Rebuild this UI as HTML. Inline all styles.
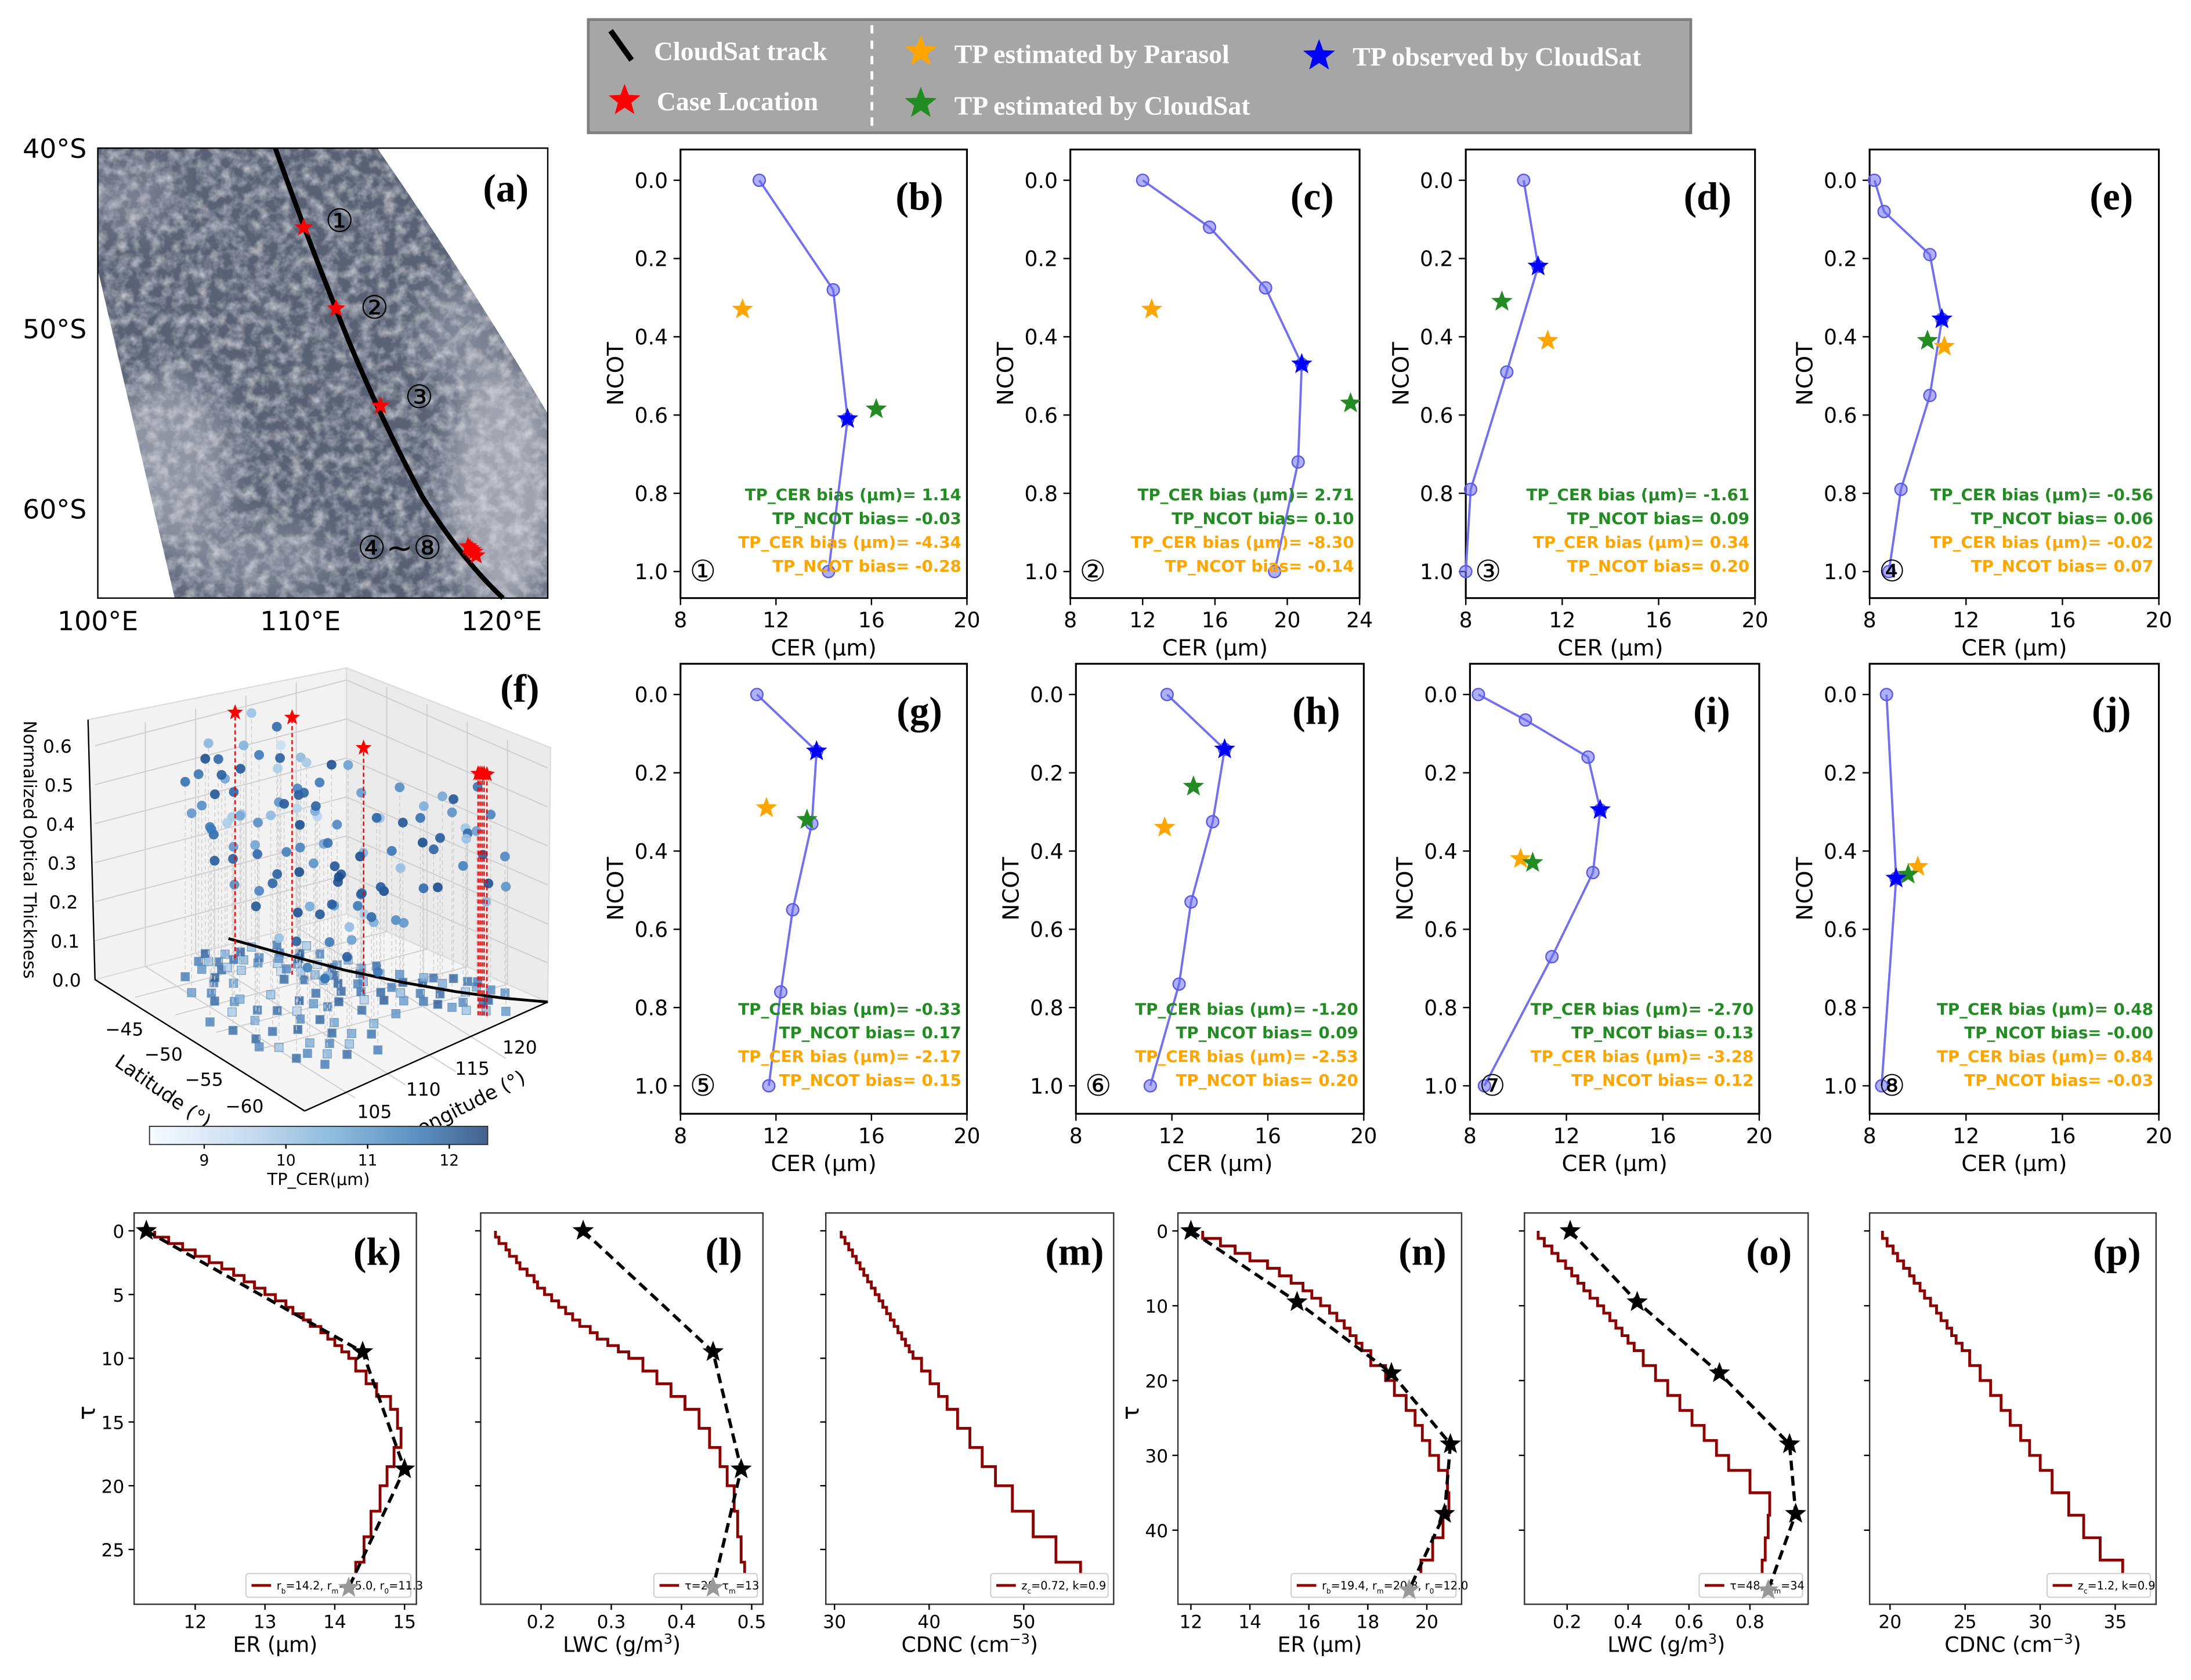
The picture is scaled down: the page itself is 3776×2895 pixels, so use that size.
<!DOCTYPE html>
<html><head><meta charset="utf-8">
<style>
html,body{margin:0;padding:0;background:#fff;}
svg{display:block;}
text{font-family:"DejaVu Sans","Liberation Sans","Noto Sans CJK JP",sans-serif;}
.serif{font-family:"Liberation Serif","DejaVu Serif",serif;font-weight:bold;}
</style></head>
<body>
<svg id="fig" xmlns="http://www.w3.org/2000/svg" width="3776" height="2895" viewBox="0 0 1568 1202.2" preserveAspectRatio="none">
<defs>
<clipPath id="swathClip"><path d="M70,106 L270,106 Q335,200 392,296 L392,428 L125,428 Q95,300 70,193 Z"/></clipPath>
<filter id="clouds" x="0" y="0" width="100%" height="100%">
<feTurbulence type="fractalNoise" baseFrequency="0.12" numOctaves="3" seed="5"/>
<feColorMatrix type="matrix" values="0 0 0 0 0.72  0 0 0 0 0.73  0 0 0 0 0.78  1.7 0 0 0 -0.62"/>
</filter>
<filter id="soft"><feGaussianBlur stdDeviation="12"/></filter>
<linearGradient id="cbGrad" x1="0" x2="1" y1="0" y2="0">
<stop offset="0" stop-color="#f7fbff"/><stop offset="0.3" stop-color="#c6dbef"/>
<stop offset="0.55" stop-color="#8cbbdc"/><stop offset="0.8" stop-color="#5a8fc0"/><stop offset="1" stop-color="#44628e"/>
</linearGradient>
</defs>

<g>
<rect x="421" y="14" width="789" height="81" fill="#a6a6a6" stroke="#7f7f7f" stroke-width="2"/>
<line x1="437" y1="22" x2="452" y2="43" stroke="#000" stroke-width="4"/>
<text class="serif" x="468" y="43" font-size="19" fill="#fff">CloudSat track</text>
<text class="serif" x="470" y="79" font-size="19" fill="#fff">Case Location</text>
<line x1="624" y1="18" x2="624" y2="92" stroke="#fff" stroke-width="2" stroke-dasharray="6,5"/>
<text class="serif" x="683" y="45" font-size="19" fill="#fff">TP estimated by Parasol</text>
<text class="serif" x="683" y="82" font-size="19" fill="#fff">TP estimated by CloudSat</text>
<text class="serif" x="968" y="47" font-size="19" fill="#fff">TP observed by CloudSat</text>
<g id="legendStars"></g>
</g>

<g>
<rect x="70" y="106" width="322" height="322" fill="#fff"/>
<g clip-path="url(#swathClip)">
<rect x="70" y="106" width="322" height="322" fill="#596174"/>
<g filter="url(#soft)">
<ellipse cx="120" cy="330" rx="45" ry="60" fill="#aeb1bd" opacity="0.65"/>
<ellipse cx="360" cy="350" rx="40" ry="90" fill="#b9bcc6" opacity="0.75"/>
<ellipse cx="330" cy="240" rx="30" ry="40" fill="#a6a9b6" opacity="0.5"/>
<ellipse cx="180" cy="400" rx="60" ry="25" fill="#a3a7b3" opacity="0.5"/>
<ellipse cx="95" cy="140" rx="30" ry="25" fill="#a3a7b3" opacity="0.45"/>
</g>
<rect x="70" y="106" width="322" height="322" filter="url(#clouds)" opacity="0.85"/>
</g>
<rect x="70" y="106" width="322" height="322" fill="none" stroke="#000" stroke-width="1"/>
<path d="M197,106 Q220,170 240,220 Q265,285 302,355 Q330,400 360,428" fill="none" stroke="#000" stroke-width="3.5"/>
<g id="mapStars"></g>
<text x="243" y="166" font-size="23" text-anchor="middle" fill="#000">①</text>
<text x="268" y="228" font-size="23" text-anchor="middle" fill="#000">②</text>
<text x="300" y="292" font-size="23" text-anchor="middle" fill="#000">③</text>
<text x="286" y="400" font-size="23" text-anchor="middle" fill="#000">④~⑧</text>
<text class="serif" x="362" y="144" font-size="28" text-anchor="middle">(a)</text>
<text x="62" y="113" font-size="19" text-anchor="end">40°S</text>
<text x="62" y="242" font-size="19" text-anchor="end">50°S</text>
<text x="62" y="371" font-size="19" text-anchor="end">60°S</text>
<text x="70" y="451" font-size="19" text-anchor="middle">100°E</text>
<text x="215" y="451" font-size="19" text-anchor="middle">110°E</text>
<text x="359" y="451" font-size="19" text-anchor="middle">120°E</text>
</g>

<g id="panelF"></g>
<g id="profiles"></g>
<g id="row3"></g>
</svg>

<script>
const cerB=[11.3,14.4,15.0,14.2]; const ncotB=[0,0.28,0.61,1.0];
const cerC=[12.0,15.7,18.8,20.8,20.6,19.3]; const ncotC=[0,0.12,0.275,0.47,0.72,1.0];
const cerD=[10.4,11.0,9.7,8.2,8.0]; const ncotD=[0,0.22,0.49,0.79,1.0];
const cerE=[8.2,8.6,10.5,11.0,10.5,9.3,8.8]; const ncotE=[0,0.08,0.19,0.355,0.55,0.79,1.0];
const cerG=[11.2,13.7,13.5,12.7,12.2,11.7]; const ncotG=[0,0.145,0.33,0.55,0.76,1.0];
const cerH=[11.8,14.2,13.7,12.8,12.3,11.1]; const ncotH=[0,0.14,0.325,0.53,0.74,1.0];
const cerI=[8.35,10.3,12.9,13.4,13.1,11.4,8.6]; const ncotI=[0,0.065,0.16,0.295,0.455,0.67,1.0];
const cerJ=[8.7,9.1,8.5]; const ncotJ=[0,0.47,1.0];
const parasolTP={b:[10.6,0.33],c:[12.5,0.33],d:[11.4,0.41],e:[11.1,0.425],g:[11.6,0.29],h:[11.7,0.34],i:[10.1,0.42],j:[10.0,0.44]};
const csEstTP={b:[16.2,0.585],c:[23.5,0.57],d:[9.5,0.31],e:[10.4,0.41],g:[13.3,0.32],h:[12.9,0.235],i:[10.6,0.43],j:[9.6,0.46]};
const obsTP={b:[15.0,0.61],c:[20.8,0.47],d:[11.0,0.22],e:[11.0,0.355],g:[13.7,0.145],h:[14.2,0.14],i:[13.4,0.295],j:[9.1,0.47]};
const biasCERcs={b:"1.14",c:"2.71",d:"-1.61",e:"-0.56",g:"-0.33",h:"-1.20",i:"-2.70",j:"0.48"};
const biasNCOTcs={b:"-0.03",c:"0.10",d:"0.09",e:"0.06",g:"0.17",h:"0.09",i:"0.13",j:"-0.00"};
const biasCERpa={b:"-4.34",c:"-8.30",d:"0.34",e:"-0.02",g:"-2.17",h:"-2.53",i:"-3.28",j:"0.84"};
const biasNCOTpa={b:"-0.28",c:"-0.14",d:"0.20",e:"0.07",g:"0.15",h:"0.20",i:"0.12",j:"-0.03"};
const xTicks8to20=[8,12,16,20]; const xTicks8to24=[8,12,16,20,24];
const yTicksNCOT=[0.0,0.2,0.4,0.6,0.8,1.0];

const tauK=[0,0.5,1,1.5,2,2.5,3,3.5,4,4.5,5,5.5,6,6.5,7,7.5,8,8.5,9,9.5,10,11,12,13,14,15.5,17,18.5,20,22,24,26,28];
const erK=[11.42,11.62,11.82,12.0,12.2,12.38,12.55,12.7,12.85,13.0,13.15,13.3,13.4,13.55,13.65,13.8,13.9,14.0,14.1,14.2,14.3,14.45,14.6,14.8,14.9,14.95,14.85,14.75,14.65,14.52,14.42,14.3];
const lwcK=[0.135,0.14,0.15,0.155,0.165,0.17,0.18,0.19,0.195,0.205,0.215,0.225,0.235,0.245,0.255,0.27,0.28,0.295,0.31,0.325,0.345,0.365,0.385,0.405,0.425,0.44,0.455,0.465,0.475,0.48,0.485,0.49];
const cdncK=[30.7,31.1,31.5,31.9,32.3,32.7,33.1,33.5,33.9,34.3,34.7,35.1,35.5,35.9,36.3,36.7,37.1,37.5,37.9,38.3,39.2,40.1,41,41.9,43,44.3,45.6,47,48.8,51,53.4,56];
const starTauK=[0,9.5,18.7,28]; const starErK=[11.3,14.4,15.0,14.2]; const starLwcK=[0.26,0.445,0.485,0.445];
const tauN=[0,1,2,3,4,5,6,7,8,9,10,11,12,13,14,15,16,18,20,22,24,26,28,30,32,35,38,41,44,48];
const erN=[12.4,13.0,13.5,14.0,14.6,15.0,15.4,15.8,16.1,16.4,16.7,16.95,17.2,17.4,17.6,17.8,18.1,18.6,18.9,19.3,19.6,19.85,20.1,20.4,20.7,20.75,20.55,20.2,19.8];
const lwcN=[0.105,0.125,0.15,0.17,0.195,0.215,0.235,0.255,0.275,0.3,0.32,0.34,0.36,0.38,0.4,0.42,0.45,0.49,0.53,0.57,0.61,0.65,0.69,0.73,0.8,0.865,0.86,0.85,0.84];
const cdncN=[19.5,19.8,20.2,20.5,20.9,21.3,21.6,22,22.3,22.7,23.1,23.4,23.8,24.1,24.4,24.8,25.3,26,26.7,27.4,28,28.7,29.3,30.0,30.8,31.9,32.9,34,35.5];
const starTauN=[0,9.5,19,28.5,37.8,48]; const starErN=[12.0,15.6,18.8,20.8,20.6,19.4]; const starLwcN=[0.21,0.43,0.7,0.93,0.95,0.86];

const fLonA=[108,109,110,108.5,107.5,109.5,110.5,107,111,108,112,113,112.5,113.5,114,112,113,114.5,111.5,115,113,114,115,114.5,113.5,116,115.5,112.5,116.5,114,117,118,119,118.5,119.5,120,117.5,120.5,119,121,106,107,105.5,108,106.5,109,110,109,111,110,105,106,107,108,109,110,104.5,112,111,116];
const fLatA=[-43,-44,-43.5,-45,-44,-46,-45,-46,-44,-47,-47,-48,-49,-47.5,-49,-50,-51,-50,-48,-48,-53,-54,-53,-56,-55,-55,-57,-56,-53,-58,-57,-58,-57,-60,-59,-61,-60,-58,-62,-60,-52,-51,-50,-52,-49,-50,-52,-53,-54,-56,-56,-58,-57,-60,-59,-61,-54,-58,-46,-50];
const fNcotA=[0.48,0.52,0.45,0.5,0.42,0.4,0.55,0.38,0.47,0.35,0.5,0.45,0.55,0.42,0.38,0.48,0.35,0.52,0.58,0.44,0.3,0.25,0.33,0.28,0.22,0.35,0.2,0.3,0.4,0.24,0.45,0.4,0.48,0.35,0.42,0.3,0.5,0.38,0.28,0.45,0.45,0.4,0.5,0.35,0.3,0.46,0.33,0.52,0.42,0.3,0.28,0.22,0.35,0.25,0.3,0.2,0.34,0.26,0.36,0.5];
const fCerA=[11.5,11.8,10.5,12,11,9.8,10.2,11.7,12.2,10.8,9.5,11.2,10,12.1,9.2,11.9,10.5,12.3,9,11.4,12.2,11.8,10.2,12.4,9.5,11.5,10.8,12,9.8,11,11.6,12.1,10.4,11.3,9.7,12.3,10.9,11.8,10.1,11.2,10.5,11.8,9.6,12,11,10,12.4,9.3,11.6,10.7,9.8,11.3,10.4,12,9.9,11.5,12.2,10.3,11,10.6];
const fLonB=[109,110,108.5,107.5,109,111.5,112,113,112.5,113.5,114,115,111,112,113,114,115,115.5,116,117,113.5,114.5,115,116,117,117.5,118,116.5,118.5,119,120,120.5,121,119.5,118,121.5,117,120,106,105.5,107,106,107.5,108.5,109.5,110.5,111.5,112,108,109,110,111,107,106,105,104,104,103.5,105,106];
const fLatB=[-42.5,-44.5,-43.5,-45.5,-45,-45.5,-44,-46,-46.5,-45,-47,-46.5,-49,-48,-50,-51,-50,-52,-51.5,-52,-52,-53,-55,-56,-55,-54,-56,-58,-55.5,-56,-57,-59,-58.5,-61,-61,-61,-59,-63,-47,-48,-49,-54,-55,-54,-55,-53,-52,-54,-58,-57,-58,-59,-59,-60,-58,-55,-52,-50,-46,-44];
const fNcotB=[0.5,0.43,0.56,0.47,0.37,0.52,0.6,0.5,0.4,0.56,0.33,0.47,0.45,0.3,0.42,0.28,0.36,0.3,0.45,0.38,0.26,0.2,0.27,0.32,0.41,0.48,0.36,0.29,0.44,0.33,0.46,0.4,0.5,0.38,0.44,0.35,0.3,0.32,0.42,0.36,0.47,0.38,0.3,0.44,0.27,0.36,0.48,0.32,0.26,0.33,0.24,0.3,0.2,0.22,0.3,0.4,0.44,0.5,0.46,0.5];
const fCerB=[12.3,11.9,10.1,12.2,9.5,11.4,9.8,12.0,10.9,11.7,12.4,9.6,12.1,11.3,10.3,12.2,11.1,12.4,10.7,11.9,12.3,11.4,12.1,9.9,12.2,11.0,12.4,11.7,10.3,11.9,12.2,10.6,11.5,12.0,9.8,11.1,12.4,10.9,11.5,12.1,10.4,11.9,12.3,11.2,12.2,10.9,11.9,12.4,11.4,12.1,10.6,11.8,10.2,11.6,12.0,11.2,12.0,11.4,10.8,11.6];
const fLon=fLonA.concat(fLonB), fLat=fLatA.concat(fLatB), fNcot=fNcotA.concat(fNcotB), fCer=fCerA.concat(fCerB);
const caseLon=[110.2,111.8,114.0,118.2,118.3,118.4,118.5,118.6];
const caseLat=[-44.4,-48.9,-54.3,-62.1,-62.2,-62.3,-62.4,-62.6];
const caseTop=[0.63,0.66,0.63,0.62,0.62,0.62,0.62,0.62];
const trackLon=[111.5,113,115,117,119,121,123];
const trackLat=[-42,-46,-51,-55,-58.5,-61.5,-64];
const cbTicks=[9,10,11,12];

const NS="http://www.w3.org/2000/svg";
function mk(tag,attrs,parent){const e=document.createElementNS(NS,tag);for(const k in attrs)e.setAttribute(k,attrs[k]);if(parent)parent.appendChild(e);return e;}
function starPts(cx,cy,r){let p=[];for(let i=0;i<10;i++){const a=-Math.PI/2+i*Math.PI/5;const rr=i%2?r*0.42:r;p.push((cx+rr*Math.cos(a)).toFixed(2)+","+(cy+rr*Math.sin(a)).toFixed(2));}return p.join(" ");}
function txt(parent,x,y,s,size,anchor,extra){const t=mk("text",Object.assign({x:x,y:y,"font-size":size,"text-anchor":anchor||"start"},extra||{}),parent);t.textContent=s;return t;}

(function(){
const g=document.getElementById("legendStars");
let s;
s=mk("polygon",{points:starPts(447,72,12),fill:"#ff0000"},g);

s=mk("polygon",{points:starPts(659,37,12),fill:"#ffa500"},g);

s=mk("polygon",{points:starPts(659,74,12),fill:"#228b22"},g);

s=mk("polygon",{points:starPts(944,40,12),fill:"#0000ff"},g);

const m=document.getElementById("mapStars");
const mapLon=x=>70+(x-100)*14.45, mapLat=y=>106+(-y-40)*12.9;
for(let i=0;i<caseLon.length;i++){
 const st=mk("polygon",{points:starPts(mapLon(caseLon[i])+(i>2?2:0),mapLat(caseLat[i]),7),fill:"#ff0000"},m);
 
 
}
})();

const panels=[
 {id:"b",cer:cerB,nc:ncotB,x0:487,x1:692,top:107,bot:428,y0:129,y1:409,xmin:8,xmax:20,ticks:xTicks8to20,num:"①"},
 {id:"c",cer:cerC,nc:ncotC,x0:766,x1:973,top:107,bot:428,y0:129,y1:409,xmin:8,xmax:24,ticks:xTicks8to24,num:"②"},
 {id:"d",cer:cerD,nc:ncotD,x0:1049,x1:1256,top:107,bot:428,y0:129,y1:409,xmin:8,xmax:20,ticks:xTicks8to20,num:"③"},
 {id:"e",cer:cerE,nc:ncotE,x0:1338,x1:1545,top:107,bot:428,y0:129,y1:409,xmin:8,xmax:20,ticks:xTicks8to20,num:"④"},
 {id:"g",cer:cerG,nc:ncotG,x0:487,x1:692,top:475,bot:797,y0:497,y1:777,xmin:8,xmax:20,ticks:xTicks8to20,num:"⑤"},
 {id:"h",cer:cerH,nc:ncotH,x0:770,x1:976,top:475,bot:797,y0:497,y1:777,xmin:8,xmax:20,ticks:xTicks8to20,num:"⑥"},
 {id:"i",cer:cerI,nc:ncotI,x0:1052,x1:1259,top:475,bot:797,y0:497,y1:777,xmin:8,xmax:20,ticks:xTicks8to20,num:"⑦"},
 {id:"j",cer:cerJ,nc:ncotJ,x0:1338,x1:1545,top:475,bot:797,y0:497,y1:777,xmin:8,xmax:20,ticks:xTicks8to20,num:"⑧"}
];
const prof=document.getElementById("profiles");
panels.forEach(P=>{
 const g=mk("g",{},prof);
 
 
 const X=v=>P.x0+(v-P.xmin)/(P.xmax-P.xmin)*(P.x1-P.x0);
 const Y=v=>P.y0+v*(P.y1-P.y0);
 const box=mk("rect",{x:P.x0,y:P.top,width:P.x1-P.x0,height:P.bot-P.top,fill:"#fff",stroke:"#000","stroke-width":1.3},g);
 
 
 yTicksNCOT.forEach(t=>{mk("line",{x1:P.x0-5,x2:P.x0,y1:Y(t),y2:Y(t),stroke:"#000"},g);
  const tl=txt(g,P.x0-9,Y(t)+5.5,t.toFixed(1),15,"end");
  
  });
 P.ticks.forEach(t=>{mk("line",{x1:X(t),x2:X(t),y1:P.bot,y2:P.bot+5,stroke:"#000"},g);
  const tl=txt(g,X(t),P.bot+21,String(t),15,"middle");
  
  });
 const yl=txt(g,0,0,"NCOT",16,"middle",{transform:`translate(${P.x0-41},${(P.top+P.bot)/2}) rotate(-90)`});
 
 
 const xl=txt(g,(P.x0+P.x1)/2,P.bot+41,"CER (μm)",16,"middle");
 
 
 const pts=P.cer.map((c,i)=>X(c).toFixed(1)+","+Y(P.nc[i]).toFixed(1)).join(" ");
 const line=mk("polyline",{points:pts,fill:"none",stroke:"#7070f0","stroke-width":1.6},g);
 
 
 P.cer.forEach((c,i)=>{const d=mk("circle",{cx:X(c),cy:Y(P.nc[i]),r:4.3,fill:"rgba(110,110,245,0.55)",stroke:"#5a5ae8","stroke-width":1},g);
  
  });
 let s=mk("polygon",{points:starPts(X(parasolTP[P.id][0]),Y(parasolTP[P.id][1]),8),fill:"#ffa500"},g);
 
 
 s=mk("polygon",{points:starPts(X(csEstTP[P.id][0]),Y(csEstTP[P.id][1]),8),fill:"#228b22"},g);
 
 
 s=mk("polygon",{points:starPts(X(obsTP[P.id][0]),Y(obsTP[P.id][1]),8),fill:"#0000ff"},g);
 
 
 const bx=P.x1-4, by=Y(0.8)+5;
 const lines=[["TP_CER bias (μm)= "+biasCERcs[P.id],"#228b22"],["TP_NCOT bias= "+biasNCOTcs[P.id],"#228b22"],["TP_CER bias (μm)= "+biasCERpa[P.id],"#ffa500"],["TP_NCOT bias= "+biasNCOTpa[P.id],"#ffa500"]];
 lines.forEach((l,i)=>{const t=txt(g,bx,by+i*17,l[0],11.5,"end",{fill:l[1],"font-weight":"bold"});
  
  });
 const n=txt(g,P.x0+16,P.y1+7,P.num,21,"middle");
 
 
 const lab=txt(g,P.x1-34,P.top+43,"("+P.id+")",28,"middle",{class:"serif"});
 
 
});

const row=[
 {id:"k",x0:96,x1:298,xmin:11.125,xmax:15.17,tmin:-1.4,tmax:29.3,tau:tauK,val:erK,st:starErK,stT:starTauK,xt:[12,13,14,15],yt:[0,5,10,15,20,25],xl:"ER (μm)",leg:"r<tspan font-size='5' baseline-shift='sub'>b</tspan>=14.2, r<tspan font-size='5' baseline-shift='sub'>m</tspan>=15.0, r<tspan font-size='5' baseline-shift='sub'>0</tspan>=11.3",lw:118},
 {id:"l",x0:344,x1:546,xmin:0.114,xmax:0.516,tmin:-1.4,tmax:29.3,tau:tauK,val:lwcK,st:starLwcK,stT:starTauK,xt:[0.2,0.3,0.4,0.5],yt:null,xl:"LWC (g/m<tspan font-size='10' baseline-shift='super'>3</tspan>)",leg:"τ=28, τ<tspan font-size='5' baseline-shift='sub'>m</tspan>=13",lw:74},
 {id:"m",x0:591,x1:797,xmin:29.08,xmax:59.5,tmin:-1.4,tmax:29.3,tau:tauK,val:cdncK,st:null,xt:[30,40,50],yt:null,xl:"CDNC (cm<tspan font-size='10' baseline-shift='super'>−3</tspan>)",leg:"z<tspan font-size='5' baseline-shift='sub'>c</tspan>=0.72, k=0.9",lw:84},
 {id:"n",x0:843,x1:1046,xmin:11.56,xmax:21.18,tmin:-2.4,tmax:49.9,tau:tauN,val:erN,st:starErN,stT:starTauN,xt:[12,14,16,18,20],yt:[0,10,20,30,40],xl:"ER (μm)",leg:"r<tspan font-size='5' baseline-shift='sub'>b</tspan>=19.4, r<tspan font-size='5' baseline-shift='sub'>m</tspan>=20.8, r<tspan font-size='5' baseline-shift='sub'>0</tspan>=12.0",lw:118},
 {id:"o",x0:1091,x1:1294,xmin:0.06,xmax:0.991,tmin:-2.4,tmax:49.9,tau:tauN,val:lwcN,st:starLwcN,stT:starTauN,xt:[0.2,0.4,0.6,0.8],yt:null,xl:"LWC (g/m<tspan font-size='10' baseline-shift='super'>3</tspan>)",leg:"τ=48, τ<tspan font-size='5' baseline-shift='sub'>m</tspan>=34",lw:74},
 {id:"p",x0:1338,x1:1543,xmin:18.64,xmax:37.72,tmin:-2.4,tmax:49.9,tau:tauN,val:cdncN,st:null,xt:[20,25,30,35],yt:null,xl:"CDNC (cm<tspan font-size='10' baseline-shift='super'>−3</tspan>)",leg:"z<tspan font-size='5' baseline-shift='sub'>c</tspan>=1.2, k=0.9",lw:74}
];
const r3=document.getElementById("row3");
const TOP=868,BOT=1148;
row.forEach(P=>{
 const g=mk("g",{},r3);
 
 
 const X=v=>P.x0+(v-P.xmin)/(P.xmax-P.xmin)*(P.x1-P.x0);
 const Y=t=>TOP+(t-P.tmin)/(P.tmax-P.tmin)*(BOT-TOP);
 const box=mk("rect",{x:P.x0,y:TOP,width:P.x1-P.x0,height:BOT-TOP,fill:"#fff",stroke:"#333","stroke-width":1},g);
 
 
 const yts=(P.id<"n")?[0,5,10,15,20,25]:[0,10,20,30,40];
 yts.forEach(t=>{mk("line",{x1:P.x0-4,x2:P.x0,y1:Y(t),y2:Y(t),stroke:"#000"},g);});
 if(P.yt){P.yt.forEach(t=>{const tl=txt(g,P.x0-7,Y(t)+5,String(t),13,"end");
  
  });
  const ty=txt(g,P.x0-33,(TOP+BOT)/2+8,"τ",17,"middle",{transform:`rotate(-90 ${P.x0-33} ${(TOP+BOT)/2+3})`});
  
  }
 P.xt.forEach(t=>{mk("line",{x1:X(t),x2:X(t),y1:BOT,y2:BOT+4,stroke:"#000"},g);
  const tl=txt(g,X(t),BOT+17,String(t),13,"middle");
  
  });
 const xl=mk("text",{x:(P.x0+P.x1)/2,y:BOT+34,"font-size":15,"text-anchor":"middle"},g);
 xl.innerHTML=P.xl;
 
 
 let d="M"+X(P.val[0]).toFixed(1)+","+Y(P.tau[0]).toFixed(1);
 for(let i=0;i<P.val.length;i++){
  if(i>0)d+=" L"+X(P.val[i]).toFixed(1)+","+Y(P.tau[i]).toFixed(1);
  d+=" L"+X(P.val[i]).toFixed(1)+","+Y(P.tau[i+1]).toFixed(1);
 }
 const step=mk("path",{d:d,fill:"none",stroke:"#8b0000","stroke-width":2},g);
 
 
 const lx=P.x1-P.lw-4, ly=BOT-22;
 const lb=mk("rect",{x:lx,y:ly,width:P.lw,height:17,fill:"#fff",stroke:"#ccc","stroke-width":0.8,rx:2},g);
 
 
 mk("line",{x1:lx+4,x2:lx+18,y1:ly+8.5,y2:ly+8.5,stroke:"#8b0000","stroke-width":2},g);
 const lt=mk("text",{x:lx+22,y:ly+11.5,"font-size":8},g);
 lt.innerHTML=P.leg;
 
 
 if(P.st){
  const pts=P.st.map((v,i)=>X(v).toFixed(1)+","+Y(P.stT[i]).toFixed(1)).join(" ");
  const dl=mk("polyline",{points:pts,fill:"none",stroke:"#000","stroke-width":2.3,"stroke-dasharray":"7,4"},g);
  
  
  P.st.forEach((v,i)=>{const s=mk("polygon",{points:starPts(X(v),Y(P.stT[i]),8),fill:i==P.st.length-1?"#999":"#000"},g);
   
   });
 }
 const lab=txt(g,P.x1-28,TOP+37,"("+P.id+")",28,"middle",{class:"serif"});
 
 
});

(function(){
const g=document.getElementById("panelF");
const L=[68,701],F=[218,795],R=[392,717],B=[248,654];
const ZS=279;
const proj=(lon,lat,z)=>{const u=(-lat-40)/24, v=(lon-101)/22;
 return [F[0]+(1-u)*(L[0]-F[0])+v*(R[0]-F[0]), F[1]+(1-u)*(L[1]-F[1])+v*(R[1]-F[1])-z*ZS];};
mk("polygon",{points:`${L[0]},${L[1]} ${B[0]},${B[1]} 248,478 63,515`,fill:"#f2f2f2",stroke:"#ddd"},g);
mk("polygon",{points:`${B[0]},${B[1]} ${R[0]},${R[1]} 394,535 248,478`,fill:"#ebebeb",stroke:"#ddd"},g);
mk("polygon",{points:`${L[0]},${L[1]} ${F[0]},${F[1]} ${R[0]},${R[1]} ${B[0]},${B[1]}`,fill:"#f5f5f5",stroke:"#ddd"},g);
const gc="#cfcfcf";
[0.1,0.2,0.3,0.4,0.5,0.6].forEach(z=>{const y=z*ZS;
 mk("line",{x1:L[0],y1:L[1]-y,x2:B[0],y2:B[1]-y,stroke:gc,"stroke-width":0.8},g);
 mk("line",{x1:B[0],y1:B[1]-y,x2:R[0],y2:R[1]-y,stroke:gc,"stroke-width":0.8},g);});
[0.2,0.4,0.6,0.8].forEach(f=>{
 const a=[L[0]+f*(B[0]-L[0]),L[1]+f*(B[1]-L[1])];
 mk("line",{x1:a[0],y1:a[1],x2:a[0],y2:a[1]-175,stroke:gc,"stroke-width":0.8},g);
 mk("line",{x1:a[0],y1:a[1],x2:a[0]+(F[0]-L[0]),y2:a[1]+(F[1]-L[1]),stroke:gc,"stroke-width":0.8},g);
 const b=[B[0]+f*(R[0]-B[0]),B[1]+f*(R[1]-B[1])];
 mk("line",{x1:b[0],y1:b[1],x2:b[0],y2:b[1]-175,stroke:gc,"stroke-width":0.8},g);
 mk("line",{x1:b[0],y1:b[1],x2:b[0]+(L[0]-B[0]),y2:b[1]+(L[1]-B[1]),stroke:gc,"stroke-width":0.8},g);});
mk("line",{x1:L[0],y1:L[1],x2:F[0],y2:F[1],stroke:"#000","stroke-width":1},g);
mk("line",{x1:F[0],y1:F[1],x2:R[0],y2:R[1],stroke:"#000","stroke-width":1},g);
mk("line",{x1:L[0],y1:L[1],x2:63,y2:515,stroke:"#000","stroke-width":1},g);
const cmap=c=>{const t=Math.max(0,Math.min(1,(c-8.33)/(12.47-8.33)));
 const st=[[235,243,251],[180,210,235],[120,170,215],[60,120,185],[25,75,140]];
 const s=t*(st.length-1),i=Math.min(st.length-2,Math.floor(s)),f=s-i;
 return "rgb("+st[i].map((v,k)=>Math.round(v+(st[i+1][k]-v)*f)).join(",")+")";};
for(let i=0;i<fLon.length;i++){
 const p0=proj(fLon[i],fLat[i],0),p1=proj(fLon[i],fLat[i],fNcot[i]);
 const dl=mk("line",{x1:p0[0],y1:p0[1],x2:p1[0],y2:p1[1],stroke:"#d0d0d0","stroke-width":0.6,"stroke-dasharray":"3,2"},g);
 
 
 const sq=mk("rect",{x:p0[0]-3,y:p0[1]-3,width:6,height:6,fill:cmap(fCer[i]),stroke:"#4a7fb5","stroke-width":0.5,opacity:0.75},g);
 
 
}
const tp=trackLon.map((lo,i)=>proj(lo,trackLat[i],0).map(v=>v.toFixed(1)).join(",")).join(" ");
const tr=mk("polyline",{points:tp,fill:"none",stroke:"#000","stroke-width":2},g);


for(let i=0;i<fLon.length;i++){
 const p=proj(fLon[i],fLat[i],fNcot[i]);
 const c=mk("circle",{cx:p[0],cy:p[1],r:3.5,fill:cmap(fCer[i]),opacity:0.9},g);
 
 
}
for(let i=0;i<caseLon.length;i++){
 const p0=proj(caseLon[i],caseLat[i],0),p1=proj(caseLon[i],caseLat[i],caseTop[i]);
 const l=mk("line",{x1:p0[0],y1:p0[1],x2:p1[0],y2:p1[1],stroke:"#e00","stroke-width":1,"stroke-dasharray":"3,2"},g);
 
 
 const s=mk("polygon",{points:starPts(p1[0],p1[1],6),fill:"#ff0000"},g);
 
 
}
[0,0.1,0.2,0.3,0.4,0.5,0.6].forEach((z,i)=>{const y=L[1]-z*ZS;
 const t=txt(g,58-i*1.1,y+5,z.toFixed(1),13,"end");
 
 });
const zt=txt(g,0,0,"Normalized Optical Thickness",12.5,"middle",{transform:"translate(17,608) rotate(90)"});


[[-45,89,741],[-50,117,759],[-55,146,777],[-60,175,796]].forEach(a=>{const t=txt(g,a[1],a[2],"−"+(-a[0]),13,"middle");
 
 });
[[105,268,800],[110,303,784],[115,338,769],[120,372,754]].forEach(a=>{const t=txt(g,a[1],a[2],String(a[0]),13,"middle");
 
 });
const la=txt(g,0,0,"Latitude (°)",14,"middle",{transform:"translate(114,785) rotate(35)"});


const lo=txt(g,0,0,"Longitude (°)",14,"middle",{transform:"translate(336,795) rotate(-27)"});


const fl=txt(g,372,502,"(f)",28,"middle",{class:"serif"});


const cb=mk("rect",{x:107,y:806,width:242,height:13,fill:"url(#cbGrad)",stroke:"#333","stroke-width":0.8},g);


const cx=v=>107+(v-8.33)/(12.47-8.33)*242;
cbTicks.forEach(v=>{mk("line",{x1:cx(v),x2:cx(v),y1:819,y2:822,stroke:"#000"},g);
 const t=txt(g,cx(v),834,String(v),11,"middle");
 
 });
const ct=txt(g,228,848,"TP_CER(μm)",12,"middle");


})();
</script>
</body></html>
